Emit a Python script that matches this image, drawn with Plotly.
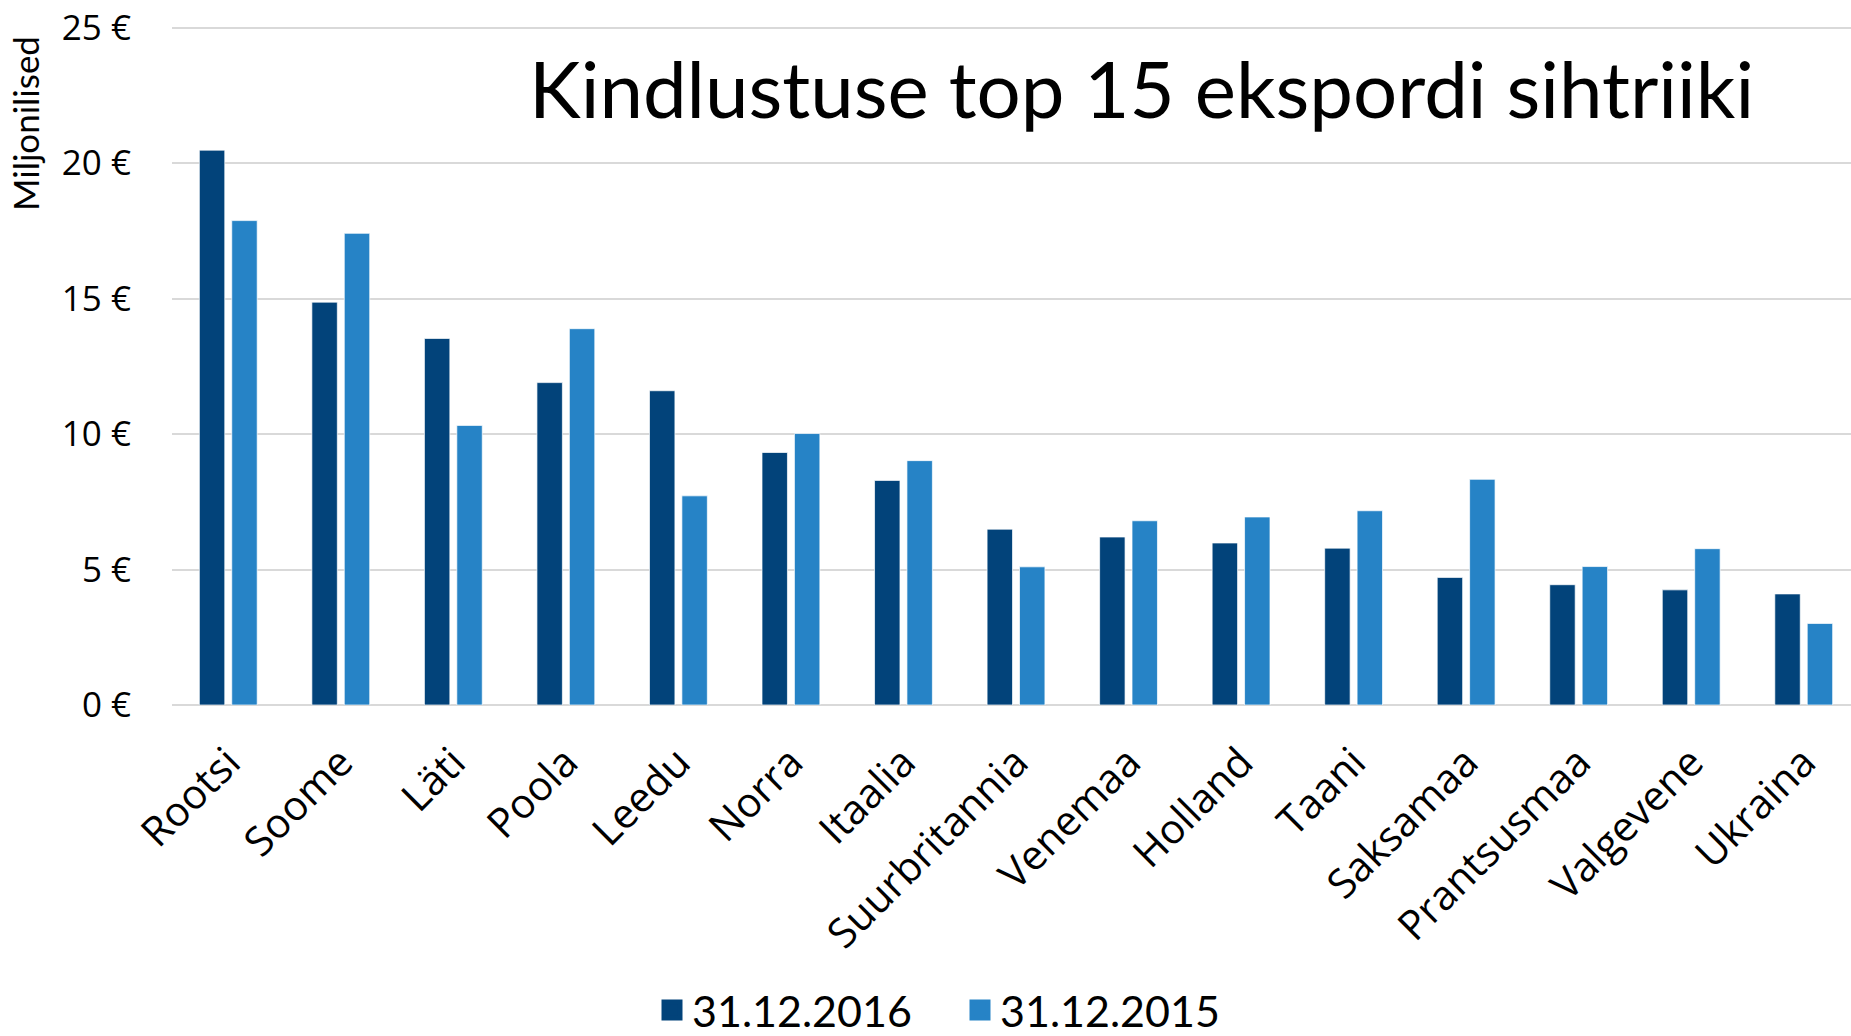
import plotly.graph_objects as go

countries = ["Rootsi", "Soome", "Läti", "Poola", "Leedu", "Norra", "Itaalia",
             "Suurbritannia", "Venemaa", "Holland", "Taani", "Saksamaa",
             "Prantsusmaa", "Valgevene", "Ukraina"]
values_2016 = [20.48, 14.87, 13.53, 11.90, 11.60, 9.32, 8.29, 6.49, 6.20, 5.98,
               5.79, 4.71, 4.44, 4.25, 4.10]
values_2015 = [17.88, 17.41, 10.32, 13.89, 7.72, 10.02, 9.02, 5.10, 6.80, 6.94,
               7.17, 8.33, 5.11, 5.77, 3.01]
series_names = ["31.12.2016", "31.12.2015"]
y_tickvals = [0, 5, 10, 15, 20, 25]
y_ticktext = ["0 €", "5 €", "10 €", "15 €", "20 €", "25 €"]

DARK = "#02437A"
LIGHT = "#2683C6"
colors = [DARK, LIGHT]

W, H = 1851, 1036
ML, MR, MT, MB = 172, 0, 25, 331

fig = go.Figure()
for name, vals, col in zip(series_names, [values_2016, values_2015], colors):
    fig.add_trace(go.Bar(x=countries, y=vals, name=name, showlegend=False,
                         legendgroup=name,
                         marker=dict(color=col, line=dict(color="rgba(255,255,255,0.7)", width=1))))
# legend entries with larger square swatches
for name, col in zip(series_names, colors):
    fig.add_trace(go.Scatter(x=[None], y=[None], mode="markers", name=name,
                             legendgroup=name,
                             marker=dict(symbol="square", size=16, color=col,
                                         line=dict(color=col, width=5))))

plot_h = H - MT - MB
plot_w = W - ML - MR

fig.update_layout(
    width=W, height=H, autosize=False,
    paper_bgcolor="white", plot_bgcolor="white",
    margin=dict(l=ML, r=MR, t=MT, b=MB, autoexpand=False),
    barmode="group", bargap=0.424, bargroupgap=0.215,
    title=dict(text="Kindlustuse top 15 ekspordi sihtriiki",
               font=dict(family="Lato", size=78, color="black"),
               xref="container", x=529 / W, xanchor="left",
               yref="container", y=1 - 91 / H, yanchor="middle"),
    legend=dict(orientation="h", xref="container", x=652 / W, xanchor="left",
                yref="paper", y=-(1010 - (H - MB)) / plot_h, yanchor="middle",
                font=dict(family="Lato", size=43, color="black"),
                entrywidth=263, entrywidthmode="pixels",
                bgcolor="rgba(0,0,0,0)"),
    showlegend=True,
    annotations=[dict(text="Miljonilised", textangle=-90, showarrow=False,
                      xref="paper", yref="paper",
                      x=(25 - ML) / plot_w, y=((H - MB) - 124) / plot_h,
                      xanchor="center", yanchor="middle",
                      font=dict(family="Lato", size=35, color="black"))],
)
fig.update_xaxes(
    type="category", range=[-0.5, 14.42], automargin=False,
    tickangle=-45, tickfont=dict(family="Open Sans", size=41, color="black"),
    showgrid=False, showline=False, ticks="", ticklabelstandoff=24,
)
fig.update_yaxes(
    range=[0, 25.1], tickvals=y_tickvals, ticktext=y_ticktext, automargin=False,
    tickfont=dict(family="Open Sans", size=35, color="black"),
    showgrid=True, gridcolor="#D9D9D9", gridwidth=1.5,
    zeroline=True, zerolinecolor="#D9D9D9", zerolinewidth=2,
    showline=False, ticks="", ticklabelstandoff=40, ticklabeloverflow="allow",
)

fig.write_html("out.html", config={"displayModeBar": False},
               post_script="document.body.style.margin='0';document.body.style.overflow='hidden';")
